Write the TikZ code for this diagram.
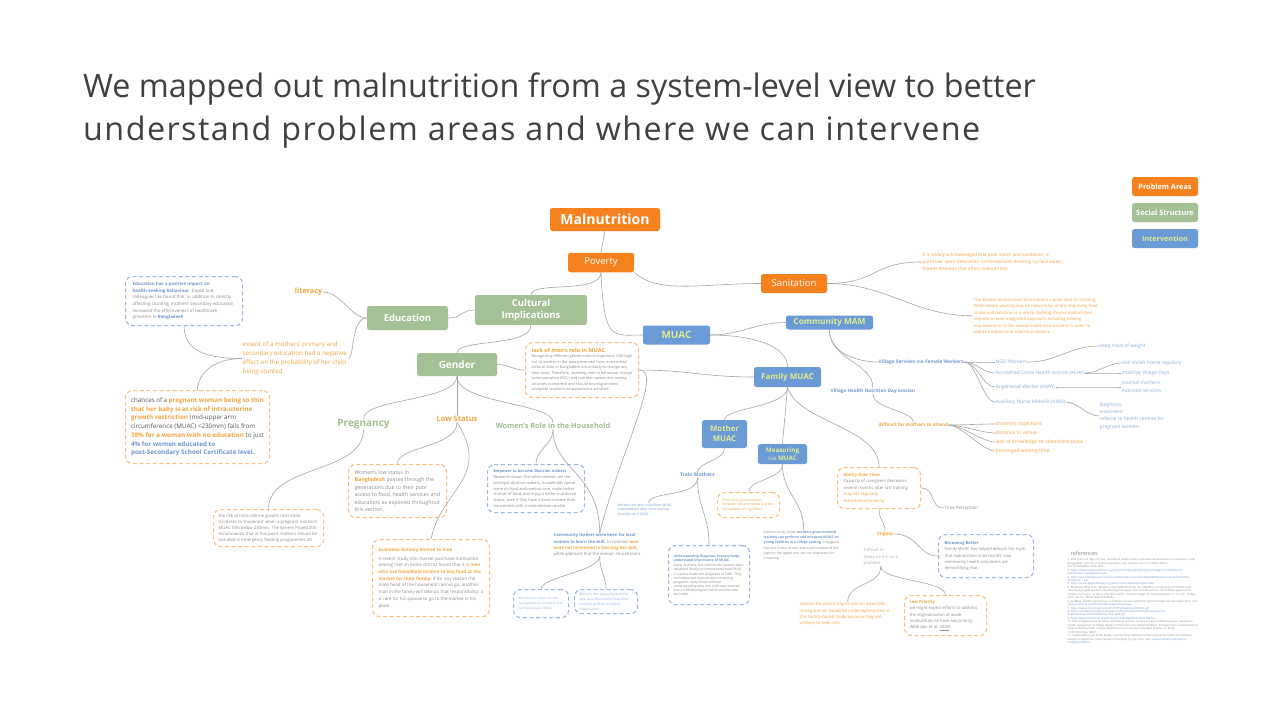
\documentclass[tikz,border=0pt]{standalone}
\usepackage{fontspec}
\setmainfont{Open Sans}
\definecolor{org}{HTML}{F5821F}
\definecolor{otx}{HTML}{F2A541}
\definecolor{grn}{HTML}{A3C195}
\definecolor{gtxg}{HTML}{9FBF8E}
\definecolor{blu}{HTML}{6A9BD6}
\definecolor{btx}{HTML}{6F98CC}
\definecolor{lbt}{HTML}{8DAEDA}
\definecolor{ylw}{HTML}{E2EB8F}
\definecolor{gtx}{HTML}{8C8C8C}
\definecolor{dtx}{HTML}{555555}
\definecolor{lgt}{HTML}{B0B0B0}
\definecolor{lnk}{HTML}{A6A6A6}
\definecolor{dor}{HTML}{F6C27F}
\definecolor{dbl}{HTML}{9DB8DC}
\definecolor{ttl}{HTML}{404040}
\newcommand{\fz}[2]{\fontsize{#1}{#2}\selectfont}
\newcommand{\hO}[1]{{\bfseries\color{otx}#1}}
\newcommand{\hB}[1]{{\bfseries\color{btx}#1}}
\newcommand{\ab}{\allowbreak}
\begin{document}
\hyphenpenalty=10000 \exhyphenpenalty=10000
\begin{tikzpicture}[x=1pt,y=-1pt,
  topic/.style={rounded corners=2.5pt, inner sep=0pt, align=center},
  obox/.style={topic, fill=org, text=white},
  gbox/.style={topic, fill=grn, text=white},
  bbox/.style={topic, fill=blu, text=ylw},
  dO/.style={draw=dor, dashed, dash pattern=on 4pt off 2.6pt, line width=1.1pt, rounded corners=7pt, fill=white, inner ysep=2pt, align=flush left, anchor=north west},
  dB/.style={dO, draw=dbl},
  txt/.style={inner sep=0.5pt, align=flush left},
  lk/.style={draw=lnk, line width=0.6pt}]
\useasboundingbox[fill=white] (0,0) rectangle (1280,720);

% title
\node[anchor=base west, inner sep=0, text=ttl, font=\fz{32.3}{38}] (t1) at (83,97) {We mapped out malnutrition from a system-level view to better};
\node[anchor=base west, inner sep=0, text=ttl, font=\fz{32.3}{38}\addfontfeatures{LetterSpace=4.5}] (t2) at (83,140) {understand problem areas and where we can intervene};

% legend
\node[obox, minimum width=66, minimum height=19, font=\bfseries\fz{7.3}{9}] (lgP) at (1165,186.5) {Problem Areas};
\node[gbox, minimum width=66, minimum height=19, font=\bfseries\fz{7.3}{9}] (lgS) at (1165,212.5) {Social Structure};
\node[bbox, minimum width=66, minimum height=19, font=\bfseries\fz{7.3}{9}] (lgI) at (1165,238.5) {Intervention};

% main topics
\node[obox, minimum width=110, minimum height=23, font=\bfseries\fz{14}{16}] (mal) at (605,219.5) {Malnutrition};
\node[obox, minimum width=66, minimum height=19.5, font=\fz{9.5}{11}] (pov) at (601,262.5) {Poverty};
\node[obox, minimum width=66, minimum height=19, font=\fz{9.5}{11}] (san) at (794,283.5) {Sanitation};
\node[gbox, minimum width=112, minimum height=30, font=\bfseries\fz{9.5}{12}] (cult) at (531,310) {Cultural\\Implications};
\node[gbox, minimum width=81, minimum height=24, font=\bfseries\fz{9.5}{11}] (edu) at (407.5,318) {Education};
\node[gbox, minimum width=80, minimum height=23, font=\bfseries\fz{10}{11}] (gen) at (457,364.5) {Gender};
\node[bbox, minimum width=67, minimum height=19, font=\bfseries\fz{10}{11}] (muac) at (676.5,335) {MUAC};
\node[bbox, minimum width=87, minimum height=14, font=\bfseries\fz{8.3}{9}] (cmam) at (829.5,322.5) {Community MAM};
\node[bbox, minimum width=67, minimum height=20, font=\bfseries\fz{8}{9}] (fam) at (787.5,377) {Family MUAC};
\node[bbox, minimum width=45, minimum height=28, font=\bfseries\fz{7.8}{10}] (mom) at (724.5,434) {Mother\\MUAC};
\node[bbox, minimum width=49, minimum height=20, font=\fz{6.3}{8}] (meas) at (782.5,454) {{\bfseries Measuring}\\via {\bfseries MUAC}};

% text topics
\node[txt, anchor=east, text=otx, font=\bfseries\fz{7.3}{9}] (lit) at (323,292) {literacy};
\node[txt, text=gtxg, font=\bfseries\fz{10}{12}] (preg) at (363.5,424) {Pregnancy};
\node[txt, text=otx, font=\bfseries\fz{7.5}{9}] (low) at (457,419) {Low Status};
\node[txt, text=gtxg, font=\bfseries\fz{7.3}{9}] (wrole) at (553,426) {Women's Role in the Household};

% left boxes
\node[dB, inner xsep=7, text width=103, minimum height=49, font=\fz{4.45}{6.6}] (edub) at (125,276)
 {\color{gtx}\hB{Education has a positive impact on health-seeking behaviour}. Zayed and colleagues146 found that, in addition to directly affecting stunting, mothers' secondary education increased the effectiveness of healthcare provision in \hB{Bangladesh}};
\node[txt, anchor=north west, text width=105, text=otx, font=\fz{6.2}{8.8}] (ext) at (242,341.5)
 {extent of a mothers' primary and secondary education had a negative effect on the probability of her child being stunted};
\node[dO, inner xsep=5.5, text width=133, minimum height=73, font=\fz{6.3}{8.75}] (chb) at (125,390)
 {\color{dtx}chances of a \hO{pregnant woman being so thin that her baby is at risk of intra-uterine growth restriction} (mid-upper arm circumference (MUAC) <230mm) falls from \hO{38\% for a woman with no education} to just \hB{4\% for women educated to post-Secondary School Certificate level.}};
\node[dO, inner xsep=6, text width=101, minimum height=55] (lackb) at (525,342)
 {{\fz{5.6}{8}\bfseries\color{otx}lack of men's role in MUAC\par}{\fz{3.8}{5.5}\color{gtx}Recognising different gender roles is important. Although not as evident in the data presented here, entrenched cultural roles in Bangladesh are unlikely to change any time soon. Therefore, involving men in behaviour change communication (BCC) and nutrition awareness-raising activities is essential and should be programmed alongside women's empowerment activities.\par}};
\node[dO, inner xsep=5, text width=100, minimum height=37, font=\fz{4.25}{6}] (prisk) at (213,509)
 {\color{gtx}the risk of intra-uterine growth restriction increases to `moderate' when a pregnant mother's MUAC falls below 230mm. The Sphere Project206 recommends that at this point mothers should be included in emergency feeding programmes.20};
\node[dO, inner xsep=6, text width=86, minimum height=53, font=\fz{5.3}{7.5}] (lowb) at (348,464)
 {\color{gtx}Women's low status in \hO{Bangladesh} passes through the generations due to their poor access to food, health services and education, as explored throughout this section.};
\node[dO, inner xsep=6, text width=105, minimum height=77, font=\fz{4.5}{6.7}] (econ) at (372,539)
 {{\bfseries\color{otx}Economic Activity limited to men\par}\vspace{2pt}{\color{gtx}A recent study into market purchase motivation among men in Kulna district found that it is \hO{men who use household income to buy food at the market for their family.} If for any reason the male head of the household cannot go, another man in the family will take on that responsibility: it is rare for his spouse to go to the market in his place\par}};
\node[dB, inner xsep=6, text width=85, minimum height=48, font=\fz{3.9}{5.8}] (emp) at (487,464)
 {{\bfseries\color{btx}Empower to become Decision makers\par}{\color{gtx}Research shows that when women are the principal decision-makers, households spend more on food and medical care, make better choices of food, and enjoy a better nutritional status, even if they have a lower income than households with a male decision-maker.\par}};
\node[txt, anchor=north west, text width=92, font=\fz{4.2}{6.2}] (comm) at (553,533)
 {\hB{Community leaders were keen for local women to learn the skill.} {\color{gtx}In contrast} \hO{men were not interested in learning the skill}{\color{gtx}, while adamant that the women should learn.}};
\node[dB, inner xsep=5, text width=45, minimum height=28, font=\fz{3.1}{5}] (sb1) at (513,589)
 {\color{lbt}Anticipation of girls (i.e. the next generation of mothers) to participate was striking};
\node[dB, inner xsep=5, text width=53, minimum height=24, font=\fz{3.2}{5}] (sb2) at (574,589)
 {\color{lbt}Mothers who had completed the task were observed to help other mothers perform the MUAC classification};

% MUAC side
\node[txt, anchor=north west, text width=62, text=btx, font=\fz{3.3}{4.6}] (able) at (617,503)
 {Mothers are able to perform MUAC measurement after short training (Somaho et al 2020)};
\node[txt, text=btx, font=\bfseries\fz{5}{6}] (train) at (697.5,475) {Train Mothers};
\node[dB, inner xsep=5, text width=71, minimum height=59, font=\fz{3.4}{4.1}] (und) at (668,545)
 {{\bfseries\color{btx}Understanding Diagnosis Process helps understand importance of MUAC\par}\vspace{1.5pt}{\color{gtx}Many mothers and community leaders were delighted finally to comprehend how MUAC is used to make the diagnosis of SAM. They had witnessed malnutrition screening programs many times without understanding why one child was entered into a CMAM program while another was excluded.\par}};
\node[dO, inner xsep=5, text width=52, minimum height=25, font=\fz{3.4}{4.5}] (note) at (717,492)
 {\color{otx}Error Only at boundaries between red and yellow \& green and yellow; not significant};
\node[txt, anchor=north west, text width=80, text=gtx, font=\fz{3.4}{5.3}] (pres) at (763,530)
 {present study shows \hB{mothers given minimal training can perform and interpret MUAC on young children in a village setting}. It suggests that the choice of arm and exact location of the tape on the upper arm are not important for screening.};
\node[dO, inner xsep=6, text width=71, minimum height=41, font=\fz{4.2}{6.5}] (abil) at (837,467)
 {\hO{Ability Over Time}\\{\color{gtx}Capacity of caregivers decreases several months after last training}\\{\color{otx}requires regularly refreshment/training}};
\node[txt, anchor=west, text=gtx, font=\fz{4.4}{6}] (timep) at (944,508) {Time Perception};
\node[txt, text=otx, font=\bfseries\fz{4.6}{6}] (stig) at (885,534) {Stigma};
\node[txt, anchor=north west, text=lgt, font=\fz{4.2}{6.3}] (diff) at (863,548) {Difficult to\\measure this as a\\problem};
\node[dB, inner xsep=6, text width=83, minimum height=43, font=\fz{4.1}{6.4}] (bec) at (938,534)
 {\hB{Becoming Better}\\{\color{gtx}Family MUAC has helped debunk the myth that malnutrition is witchcraft; now community health volunteers are demystifying that.}};
\node[txt, anchor=north west, text width=96, text=otx, font=\fz{4.3}{6.3}] (women) at (799,602)
 {women for whom stigma was an especially strong barrier would be underrepresented in this facility-based study because they are unlikely to seek care};
\node[dO, inner xsep=5, text width=72, minimum height=40, font=\fz{4.2}{6.4}] (lowp) at (904,595)
 {\hO{Low Priority}\\{\color{gtx}we might expect efforts to address the stigmatisation of acute malnutrition to have low priority (Mahajan et al. \underline{2008})}};

% right side
\node[txt, anchor=north west, text width=140, text=otx, font=\fz{4.6}{7}] (san1) at (922,252.5)
 {It is widely acknowledged that poor water and sanitation, in particular open defecation combined with drinking surface water, breeds diseases that affect malnutrition};
\node[txt, anchor=north west, text width=124, text=otx, font=\fz{4.2}{6.4}] (san2) at (973,297.5)
 {The disease environment also matters a great deal for wasting. While severe wasting may be reduced by simply improving food intake and nutrition as a whole, tackling chronic malnutrition requires a more integrated approach, including making improvements to the overall health environment in order to reduce incidences of infectious disease};
\node[txt, anchor=west, text=btx, font=\bfseries\fz{4.8}{6}] (vs) at (878,362) {Village Services via Female Workers};
\node[txt, anchor=west, text=btx, font=\bfseries\fz{4.7}{6}] (vhnd) at (830,391) {Village Health Nutrition Day session};
\node[txt, anchor=west, text=lbt, font=\fz{4.9}{6}] (ngo) at (995,362) {NGO Workers};
\node[txt, anchor=west, text=lbt, font=\fz{4.9}{6}] (asha) at (995,373) {Accredited Social Health Activist (ASHA)};
\node[txt, anchor=west, text=lbt, font=\fz{4.9}{6}] (aww) at (995,387) {Anganwadi Worker (AWW)};
\node[txt, anchor=west, text=lbt, font=\fz{4.9}{6}] (anm) at (995,402) {Auxiliary Nurse Midwife (ANM)};
\node[txt, anchor=west, text=lbt, font=\fz{4.9}{6}] (keep) at (1099,346) {keep track of weight};
\node[txt, anchor=west, text=lbt, font=\fz{4.9}{6}] (visit) at (1121,363) {visit child's home regularly};
\node[txt, anchor=west, text=lbt, font=\fz{4.9}{6}] (mob) at (1121,373) {mobilize Village Days};
\node[txt, anchor=west, text=lbt, font=\fz{4.9}{8}] (couns) at (1121,387) {counsel mothers\\nutrition services};
\node[txt, anchor=west, text=lbt, font=\fz{4.9}{7.4}] (diag) at (1099,416) {diagnosis,\\treatment\\referral to health centres for\\pregnant women};
\node[txt, anchor=west, text=otx, font=\bfseries\fz{4.6}{6}] (diffm) at (878,425) {difficult for mothers to attend};
\node[txt, anchor=west, text=otx, font=\fz{5}{6}] (d1) at (995,424) {domestic objections};
\node[txt, anchor=west, text=otx, font=\fz{5}{6}] (d2) at (995,433) {distance to venue};
\node[txt, anchor=west, text=otx, font=\fz{5}{6}] (d3) at (995,442) {lack of knowledge re: date/time/place};
\node[txt, anchor=west, text=otx, font=\fz{5}{6}] (d4) at (995,451) {prolonged waiting time};

% references
\node[txt, anchor=west, text=gtx, font=\fz{5.5}{7}] (refh) at (1070,553) {references};
\node[txt, anchor=north west, text width=133, text=gtx, font=\fz{2.7}{3.45}] (refs) at (1067,558)
 {1. Kulli, Jeb et al. ``Age of onset, nutritional determinants, and seasonal variations in menarche in rural Bangladesh.'' Journal of health, population, and nutrition vol. 27,6 (2009): 802-7. doi:10.3329/jhpn.v27i6.4332\par
 2. {\color{btx}https://www.savethechildren.org.uk/\ab content/dam/global/reports/\ab hunger-and-livelihoods/\ab malnutrition-in-bangladesh.pdf}\par
 3. {\color{btx}https://www.fantaproject.org/sites/\ab default/files/resources/\ab NGANCM\%20Advocacy\%20Tool\%20-\ab\%20Jun2011.pdf}\par
 4. {\color{btx}https://actionagainsthunger.org/\ab work/action-against-hunger-india}\par
 5. Blackwell, Nikki et al. ``Mothers Understand And Can do it (MUAC): a comparison of mothers and community health workers determining mid-upper arm circumference in 103 children aged from 6 months to 5 years.'' Archives of public health = Archives belges de sant\'e publique vol. 73 1 26. 18 May. 2015, doi:10.1186/s13690-015-0074-z\par
 6. ALIMA (). Call for experiences on mothers measuring MUAC. Field Exchange 52, November 2016. p52. {\color{btx}www.ennonline.net/fex/52/\ab callforexperiencesmuac}\par
 7. {\color{btx}https://www.unicef.org/media/\ab 51216/file/Family\%20MUAC.pdf}\par
 8. {\color{btx}https://reliefweb.int/sites/reliefweb.int/\ab files/resources/\%20B-Guidelines-for-\ab implementing-MUAC\%20Family-\%20-2020.pdf}\par
 9. {\color{btx}https://www.frontiersin.org/articles/\ab 10.3389/fpubh.2018.00138/full}\par
 10. Kim, Sunghamma \& Chauhan, Abhimanyu \& Alam, Sunitra \& Patro, Prabhakar \& Kim, Sandipana. (2018). Assessment of Village Health and Nutrition Day Implementation: Findings from a mixed-method study in Odisha, India. Clinical Health Promotion Research and Best Practice. 8. 82-86. 10.29102/clinhp.18007\par
 11. Piyush Mehra and Kartik Reddy. A partnership between female community health and nutrition workers in Rajasthan, India. Nutrition Exchange 16, July 2016. p20. {\color{btx}www.ennonline.net/nex/16/\ab bridgeinsanitation}\par};

% connectors
\draw[lk] (mal.south) -- (pov.north);
\draw[lk] (pov.south) .. controls +(0,22) and +(0,-14) .. (cult.north);
\draw[lk] (pov.south east) .. controls +(25,22) and +(-60,0) .. (san.west);
\draw[lk] (pov.south) .. controls +(3,70) and +(-30,0) .. (muac.west);
\draw[lk] (cult.west) .. controls +(-14,0) and +(14,0) .. (edu.east);
\draw[lk] (cult.south) .. controls +(0,22) and +(0,-14) .. (gen.north);
\draw[lk] (edu.west) .. controls +(-16,0) and +(18,0) .. (lit.east);
\draw[lk] (edu.west) .. controls +(-16,0) and +(6,0) .. (ext.east);
\draw[lk] (ext.west) .. controls +(-35,0) and +(0,25) .. (edub.south);
\draw[lk] (ext.west) .. controls +(-30,0) and +(0,-15) .. (chb.north);
\draw[lk] (gen.east) .. controls +(12,0) and +(-12,0) .. (lackb.west);
\draw[lk] (gen.south) .. controls +(0,25) and +(0,-20) .. (preg.north);
\draw[lk] (gen.south) -- (low.north);
\draw[lk] (gen.south) .. controls +(0,28) and +(0,-20) .. (wrole.north);
\draw[lk] (preg.south) .. controls +(0,45) and +(0,-45) .. (prisk.north);
\draw[lk] (low.south) .. controls +(0,25) and +(0,-18) .. (lowb.north);
\draw[lk] (low.south) .. controls +(35,55) and +(10,-50) .. (econ.north);
\draw[lk] (wrole.south) .. controls +(0,15) and +(0,-15) .. (emp.north);
\draw[lk] (wrole.south) .. controls +(0,40) and +(0,-60) .. (comm.north);
\draw[lk] (lackb.east) .. controls +(50,0) and +(-50,0) .. (fam.west);
\draw[lk] (lackb.east) .. controls +(25,0) and +(20,-80) .. (comm.north);
\draw[lk] (comm.south) .. controls +(0,15) and +(0,-12) .. (sb1.north);
\draw[lk] (comm.south) .. controls +(0,15) and +(0,-12) .. (sb2.north);
\draw[lk] (muac.east) .. controls +(30,0) and +(-30,0) .. (cmam.west);
\draw[lk] (muac.east) .. controls +(45,0) and +(0,-20) .. (fam.north);
\draw[lk] (fam.south) .. controls +(0,20) and +(0,-12) .. (mom.north);
\draw[lk] (fam.south) -- (meas.north);
\draw[lk] (fam.south) .. controls +(10,35) and +(0,-40) .. (abil.north);
\draw[lk] (mom.south) .. controls +(0,12) and +(0,-10) .. (train.north);
\draw[lk] (train.south) .. controls +(0,20) and +(0,-12) .. (able.north);
\draw[lk] (train.south) .. controls +(0,30) and +(0,-30) .. (und.north);
\draw[lk] (meas.south) .. controls +(0,15) and +(0,-12) .. (note.north);
\draw[lk] (meas.south) .. controls +(0,30) and +(0,-30) .. (pres.north);
\draw[lk] (abil.east) .. controls +(15,0) and +(-15,0) .. (timep.west);
\draw[lk] (abil.south) .. controls +(0,12) and +(0,-10) .. (stig.north);
\draw[lk] (stig.east) .. controls +(25,0) and +(-20,0) .. (bec.west);
\draw[lk] (diff.south) .. controls +(0,20) and +(0,-20) .. (women.north);
\draw[lk] (diff.south) .. controls +(0,15) and +(0,-15) .. (lowp.north);
\draw[lk] (cmam.south) .. controls +(0,25) and +(-18,0) .. (vs.west);
\draw[lk] (cmam.south) .. controls +(0,30) and +(0,-25) .. (vhnd.north);
\draw[lk] (vhnd.south) .. controls +(0,15) and +(0,-12) .. (diffm.north);
\foreach \t in {ngo,asha,aww,anm} \draw[lk] (vs.east) .. controls +(12,0) and +(-12,0) .. (\t.west);
\draw[lk] (ngo.east) .. controls +(30,0) and +(-30,0) .. (keep.west);
\draw[lk] (asha.east) .. controls +(12,0) and +(-12,0) .. (visit.west);
\draw[lk] (asha.east) .. controls +(12,0) and +(-12,0) .. (mob.west);
\draw[lk] (aww.east) .. controls +(25,0) and +(-25,0) .. (couns.west);
\draw[lk] (anm.east) .. controls +(12,0) and +(-12,0) .. (diag.west);
\foreach \t in {d1,d2,d3,d4} \draw[lk] (diffm.east) .. controls +(12,0) and +(-12,0) .. (\t.west);
\draw[lk] (san.east) .. controls +(50,0) and +(-50,0) .. (san1.west);
\draw[lk] (san.east) .. controls +(60,0) and +(-60,0) .. (san2.west);
\end{tikzpicture}
\end{document}
